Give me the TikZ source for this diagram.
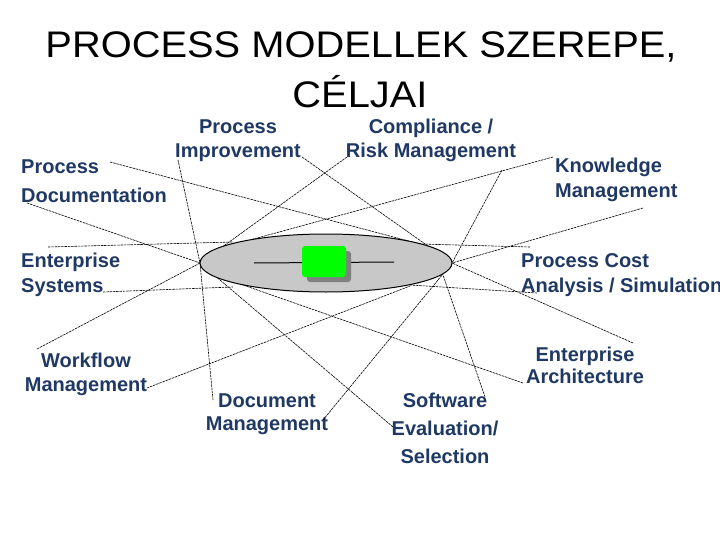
\documentclass[tikz,border=0pt]{standalone}
\usepackage{fontspec}
\usepackage{graphicx}
\setmainfont{Liberation Sans}
\usetikzlibrary{shapes.geometric}
\definecolor{lblue}{RGB}{31,56,100}
\definecolor{ellgray}{RGB}{200,200,200}
\definecolor{shadowgray}{RGB}{128,128,128}
\definecolor{boxgreen}{RGB}{0,255,0}
\begin{document}
\begin{tikzpicture}[x=1pt,y=-1pt,
  lbl/.style={font=\fontsize{20}{24}\selectfont\bfseries, text=lblue, inner sep=0pt},
  ttl/.style={font=\fontsize{37}{44}\selectfont, text=black, inner sep=0pt, anchor=base},
  link/.style={line width=0.6pt, dash pattern=on 2.5pt off 0.8pt, black}]
\useasboundingbox (0,0) rectangle (720,540);

% title
\node[ttl] (t1) at (361,58) {\scalebox{1.077}[1]{PROCESS MODELLEK SZEREPE,}};
\node[ttl] (t2) at (360,108) {\scalebox{1.077}[1]{CÉLJAI}};

% labels
\node[lbl, anchor=base west] (pd1) at (21,174) {Process};
\node[lbl, anchor=base west] (pd2) at (21,203) {Documentation};
\node[lbl, anchor=base] (pi1) at (238,134) {Process};
\node[lbl, anchor=base] (pi2) at (238,158) {Improvement};
\node[lbl, anchor=base] (cr1) at (431,134) {Compliance /};
\node[lbl, anchor=base] (cr2) at (431,158) {Risk Management};
\node[lbl, anchor=base west] (km1) at (555,173) {Knowledge};
\node[lbl, anchor=base west] (km2) at (555,198) {Management};
\node[lbl, anchor=base west] (es1) at (21,267) {Enterprise};
\node[lbl, anchor=base west] (es2) at (21,292) {Systems};
\node[lbl, anchor=base west] (pc1) at (521,267) {Process Cost};
\node[lbl, anchor=base west] (pc2) at (521,292) {Analysis / Simulation};
\node[lbl, anchor=base] (wf1) at (86,367) {Workflow};
\node[lbl, anchor=base] (wf2) at (86,391) {Management};
\node[lbl, anchor=base] (dm1) at (267,407) {Document};
\node[lbl, anchor=base] (dm2) at (267,430) {Management};
\node[lbl, anchor=base] (sw1) at (445,407) {Software};
\node[lbl, anchor=base] (sw2) at (445,435) {Evaluation/};
\node[lbl, anchor=base] (sw3) at (445,463) {Selection};
\node[lbl, anchor=base] (ea1) at (585,361) {Enterprise};
\node[lbl, anchor=base] (ea2) at (585,383) {Architecture};

% connector end points
\coordinate (eL) at (200,263);
\coordinate (eR) at (452,263);
\coordinate (pdA) at (110,162);
\coordinate (pdB) at (27,203);
\coordinate (piA) at (178,160);
\coordinate (piB) at (302,157);
\coordinate (crA) at (347,157);
\coordinate (kmA) at (553,157);
\coordinate (kmB) at (643,208);
\coordinate (kmJ) at (502,170);
\coordinate (pcA) at (530,247);
\coordinate (pcB) at (537,293);
\coordinate (esA) at (48,247);
\coordinate (esB) at (103,292);
\coordinate (wfA) at (37,349);
\coordinate (wfB) at (147,388);
\coordinate (dmA) at (213,400);
\coordinate (dmB) at (323,420);
\coordinate (swA) at (393,427);
\coordinate (swB) at (485,397);
\coordinate (eaA) at (633,343);
\coordinate (eaB) at (523,383);
% points on the ellipse rim
\coordinate (rTR) at (420,244);
\coordinate (rTL) at (250,240);
\coordinate (rTL2) at (233,242);
\coordinate (rBL) at (233,287);
\coordinate (rBL2) at (223,278);
\coordinate (rBR) at (410,286);
\coordinate (rBR2) at (410,285);
\coordinate (rBR3) at (443,275);

% connectors
\draw[link] (pdA) -- (rTR);
\draw[link] (pdB) -- (eL);
\draw[link] (piA) -- (eL);
\draw[link] (piB) -- (eR);
\draw[link] (crA) -- (eL);
\draw[link] (kmA) -- (rTL);
\draw[link] (kmB) -- (eR);
\draw[link] (kmJ) -- (eR);
\draw[link] (pcA) -- (rTR);
\draw[link] (pcB) -- (rBR2);
\draw[link] (esA) -- (rTL2);
\draw[link] (esB) -- (rBL);
\draw[link] (wfA) -- (eL);
\draw[link] (wfB) -- (rBR);
\draw[link] (dmA) -- (eL);
\draw[link] (dmB) -- (eR);
\draw[link] (swA) -- (eL);
\draw[link] (swB) -- (rBR3);
\draw[link] (eaA) -- (eR);
\draw[link] (eaB) -- (rBL2);

% central ellipse
\node[ellipse, draw=black, line width=1pt, fill=ellgray, minimum width=252pt, minimum height=58pt, inner sep=0pt] (ell) at (326,263) {};
\coordinate (il) at (254,263);
\coordinate (ir) at (394,262);
\draw[line width=1pt] (il) -- (ir);
\node[fill=shadowgray, rounded corners=3pt, minimum width=44pt, minimum height=31pt, inner sep=0pt] (shd) at (329,266.5) {};
\node[fill=boxgreen, rounded corners=3pt, minimum width=44pt, minimum height=31pt, inner sep=0pt] (box) at (324,261.5) {};
\end{tikzpicture}
\end{document}
